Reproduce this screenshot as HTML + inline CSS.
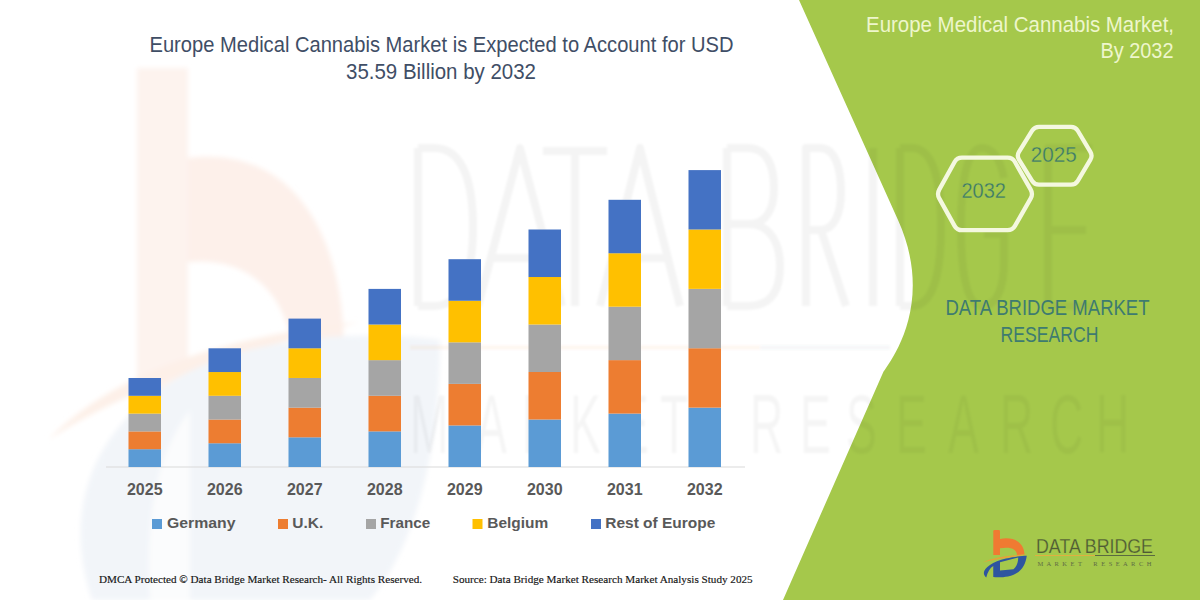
<!DOCTYPE html>
<html><head><meta charset="utf-8">
<style>
html,body{margin:0;padding:0;background:#fff;}
body{width:1200px;height:600px;overflow:hidden;position:relative;}
svg{position:absolute;left:0;top:0;display:block;}
text{font-family:"Liberation Sans",sans-serif;}
.serif{font-family:"Liberation Serif",serif;}
</style></head><body>
<svg width="1200" height="600" viewBox="0 0 1200 600">
<rect width="1200" height="600" fill="#ffffff"/>
<defs><filter id="bl" x="-20%" y="-20%" width="140%" height="140%"><feGaussianBlur stdDeviation="2.5"/></filter>
<filter id="bl2" x="-20%" y="-20%" width="140%" height="140%"><feGaussianBlur stdDeviation="1.2"/></filter></defs>
<!-- faint watermark logo (left) -->
<g filter="url(#bl)">
  <path d="M137 68 L188 68 L188 395 L137 395 Z" fill="#fdf3ee"/>
  <path d="M188 158 C290 145 342 230 344 345 L292 352 C288 298 252 256 188 262 Z" fill="#fdf0ea"/>
  <path d="M48 440 Q140 345 360 322 Q150 372 48 440 Z" fill="#fdf0e8"/>
  <path fill="#f2f5f9" d="M92 600 C55 490 110 395 230 355 C310 332 390 333 440 340 C440 440 420 540 370 600 Z"/><path fill="#fbfcfd" d="M150 600 C145 520 155 455 190 410 L190 600 Z"/>
</g>

<!-- green panel -->
<path d="M799 0 L1200 0 L1200 600 L783 600 L883.1 372.5 C885.3 367.5 937.6 308 898 220 Z" fill="#a5c84b"/>
<!-- watermark underline -->
<g filter="url(#bl2)">
<rect x="410" y="345.5" width="350" height="4" fill="#ed7d31" fill-opacity="0.06"/>
<rect x="760" y="345.5" width="130" height="4" fill="#44546a" fill-opacity="0.05"/>
</g>
<!-- watermark letters -->
<g filter="url(#bl2)" fill="none" stroke="#000" stroke-opacity="0.045" stroke-width="8" stroke-linejoin="round">
<path d="M418 148 L418 306 M418 148 L434 148 C466 148 473 190 473 227 C473 264 466 306 434 306 L418 306"/>
<path d="M478 306 L520 148 L562 306 M490 258 L550 258"/>
<path d="M543 151 L607 151 M575 151 L575 306"/>
<path d="M600 306 L640 148 L680 306 M612 258 L668 258"/>
<path d="M727 148 L727 306 M727 148 L748 148 C768 148 774 168 774 188 C774 212 764 224 748 224 L727 224 M748 224 C772 224 780 246 780 266 C780 292 770 306 748 306 L727 306"/>
<path d="M806 306 L806 148 L820 148 C836 148 841 170 841 192 C841 214 834 230 820 230 L806 230 M821 230 L846 306"/>
<path d="M873 148 L873 306"/>
<path d="M900 148 L900 306 M900 148 L912 148 C936 148 941 190 941 227 C941 264 936 306 912 306 L900 306"/>
<path d="M1004 178 C1000 158 992 148 982 148 C966 148 961 185 961 227 C961 270 966 306 982 306 C998 306 1004 285 1004 262 L1004 234 L984 234"/>
<path d="M1092 148 L1048 148 L1048 306 L1092 306 M1048 230 L1086 230"/>
</g>
<g filter="url(#bl2)" fill="#000" fill-opacity="0.04" font-size="84">
<text transform="translate(410,453) scale(0.55,1)">M</text>
<text transform="translate(476,453) scale(0.55,1)">A</text>
<text transform="translate(522,453) scale(0.55,1)">R</text>
<text transform="translate(570,453) scale(0.55,1)">K</text>
<text transform="translate(618,453) scale(0.55,1)">E</text>
<text transform="translate(660,453) scale(0.55,1)">T</text>
<text transform="translate(750,453) scale(0.55,1)">R</text>
<text transform="translate(800,453) scale(0.55,1)">E</text>
<text transform="translate(846,453) scale(0.55,1)">S</text>
<text transform="translate(896,453) scale(0.55,1)">E</text>
<text transform="translate(948,453) scale(0.55,1)">A</text>
<text transform="translate(1000,453) scale(0.55,1)">R</text>
<text transform="translate(1050,453) scale(0.55,1)">C</text>
<text transform="translate(1096,453) scale(0.55,1)">H</text>
</g>
<!-- title -->
<g fill="#3f4e66" font-size="21.8">
<text x="149.5" y="51.7" textLength="584" lengthAdjust="spacingAndGlyphs">Europe Medical Cannabis Market is Expected to Account for USD</text>
<text x="346" y="78.5" textLength="190" lengthAdjust="spacingAndGlyphs">35.59 Billion by 2032</text>
</g>
<!-- axis -->
<rect x="106" y="466.5" width="639" height="1" fill="#d9d9d9"/>
<rect x="128.50" y="449.20" width="32.5" height="17.81" fill="#5b9bd5"/>
<rect x="128.50" y="431.40" width="32.5" height="17.81" fill="#ed7d31"/>
<rect x="128.50" y="413.60" width="32.5" height="17.81" fill="#a5a5a5"/>
<rect x="128.50" y="395.80" width="32.5" height="17.81" fill="#ffc000"/>
<rect x="128.50" y="378.00" width="32.5" height="17.81" fill="#4472c4"/>
<rect x="208.50" y="443.26" width="32.5" height="23.75" fill="#5b9bd5"/>
<rect x="208.50" y="419.52" width="32.5" height="23.75" fill="#ed7d31"/>
<rect x="208.50" y="395.78" width="32.5" height="23.75" fill="#a5a5a5"/>
<rect x="208.50" y="372.04" width="32.5" height="23.75" fill="#ffc000"/>
<rect x="208.50" y="348.30" width="32.5" height="23.75" fill="#4472c4"/>
<rect x="288.50" y="437.32" width="32.5" height="29.69" fill="#5b9bd5"/>
<rect x="288.50" y="407.64" width="32.5" height="29.69" fill="#ed7d31"/>
<rect x="288.50" y="377.96" width="32.5" height="29.69" fill="#a5a5a5"/>
<rect x="288.50" y="348.28" width="32.5" height="29.69" fill="#ffc000"/>
<rect x="288.50" y="318.60" width="32.5" height="29.69" fill="#4472c4"/>
<rect x="368.50" y="431.38" width="32.5" height="35.63" fill="#5b9bd5"/>
<rect x="368.50" y="395.76" width="32.5" height="35.63" fill="#ed7d31"/>
<rect x="368.50" y="360.14" width="32.5" height="35.63" fill="#a5a5a5"/>
<rect x="368.50" y="324.52" width="32.5" height="35.63" fill="#ffc000"/>
<rect x="368.50" y="288.90" width="32.5" height="35.63" fill="#4472c4"/>
<rect x="448.50" y="425.44" width="32.5" height="41.57" fill="#5b9bd5"/>
<rect x="448.50" y="383.88" width="32.5" height="41.57" fill="#ed7d31"/>
<rect x="448.50" y="342.32" width="32.5" height="41.57" fill="#a5a5a5"/>
<rect x="448.50" y="300.76" width="32.5" height="41.57" fill="#ffc000"/>
<rect x="448.50" y="259.20" width="32.5" height="41.57" fill="#4472c4"/>
<rect x="528.50" y="419.50" width="32.5" height="47.51" fill="#5b9bd5"/>
<rect x="528.50" y="372.00" width="32.5" height="47.51" fill="#ed7d31"/>
<rect x="528.50" y="324.50" width="32.5" height="47.51" fill="#a5a5a5"/>
<rect x="528.50" y="277.00" width="32.5" height="47.51" fill="#ffc000"/>
<rect x="528.50" y="229.50" width="32.5" height="47.51" fill="#4472c4"/>
<rect x="608.50" y="413.56" width="32.5" height="53.45" fill="#5b9bd5"/>
<rect x="608.50" y="360.12" width="32.5" height="53.45" fill="#ed7d31"/>
<rect x="608.50" y="306.68" width="32.5" height="53.45" fill="#a5a5a5"/>
<rect x="608.50" y="253.24" width="32.5" height="53.45" fill="#ffc000"/>
<rect x="608.50" y="199.80" width="32.5" height="53.45" fill="#4472c4"/>
<rect x="688.50" y="407.62" width="32.5" height="59.39" fill="#5b9bd5"/>
<rect x="688.50" y="348.24" width="32.5" height="59.39" fill="#ed7d31"/>
<rect x="688.50" y="288.86" width="32.5" height="59.39" fill="#a5a5a5"/>
<rect x="688.50" y="229.48" width="32.5" height="59.39" fill="#ffc000"/>
<rect x="688.50" y="170.10" width="32.5" height="59.39" fill="#4472c4"/>
<g fill="#595959" font-size="16" font-weight="bold">
<text x="144.75" y="495.3" text-anchor="middle">2025</text>
<text x="224.75" y="495.3" text-anchor="middle">2026</text>
<text x="304.75" y="495.3" text-anchor="middle">2027</text>
<text x="384.75" y="495.3" text-anchor="middle">2028</text>
<text x="464.75" y="495.3" text-anchor="middle">2029</text>
<text x="544.75" y="495.3" text-anchor="middle">2030</text>
<text x="624.75" y="495.3" text-anchor="middle">2031</text>
<text x="704.75" y="495.3" text-anchor="middle">2032</text>
</g>
<!-- legend -->
<g font-size="15.5" font-weight="bold" fill="#595959">
<rect x="152" y="519" width="10" height="10" fill="#5b9bd5"/>
<text x="167" y="528" textLength="68.5" lengthAdjust="spacingAndGlyphs">Germany</text>
<rect x="278" y="519" width="10" height="10" fill="#ed7d31"/>
<text x="292.3" y="528" textLength="31" lengthAdjust="spacingAndGlyphs">U.K.</text>
<rect x="366" y="519" width="10" height="10" fill="#a5a5a5"/>
<text x="380.3" y="528" textLength="50" lengthAdjust="spacingAndGlyphs">France</text>
<rect x="472.5" y="519" width="10" height="10" fill="#ffc000"/>
<text x="487.3" y="528" textLength="61" lengthAdjust="spacingAndGlyphs">Belgium</text>
<rect x="591" y="519" width="10" height="10" fill="#4472c4"/>
<text x="605.3" y="528" textLength="110" lengthAdjust="spacingAndGlyphs">Rest of Europe</text>
</g>
<!-- footer -->
<g font-size="10.5" fill="#151515" stroke="#151515" stroke-width="0.15">
<text class="serif" x="99" y="582.6" textLength="323" lengthAdjust="spacingAndGlyphs">DMCA Protected © Data Bridge Market Research-  All Rights Reserved.</text>
<text class="serif" x="452.7" y="582.6" textLength="300" lengthAdjust="spacingAndGlyphs">Source: Data Bridge Market Research  Market Analysis Study 2025</text>
</g>
<!-- right panel title -->
<g fill="#eef6cc" font-size="21.8">
<text x="1174" y="31.7" text-anchor="end" textLength="308" lengthAdjust="spacingAndGlyphs">Europe Medical Cannabis Market,</text>
<text x="1173.5" y="57.6" text-anchor="end" textLength="73" lengthAdjust="spacingAndGlyphs">By 2032</text>
</g>
<!-- hexagons -->
<g fill="none" stroke="#f4f8e0" stroke-width="4.3" stroke-linejoin="round">
<path d="M939.24 198.37 Q936.80 194.00 939.23 189.63 L954.57 162.07 Q957.00 157.70 962.00 157.70 L1007.50 157.70 Q1012.50 157.70 1014.98 162.04 L1030.72 189.66 Q1033.20 194.00 1030.72 198.34 L1014.98 225.86 Q1012.50 230.20 1007.50 230.20 L962.00 230.20 Q957.00 230.20 954.56 225.83 Z"/>
<path d="M1018.97 159.63 Q1016.60 155.80 1018.97 151.97 L1032.13 130.73 Q1034.50 126.90 1039.00 126.90 L1071.00 126.90 Q1075.50 126.90 1077.80 130.77 L1090.40 151.93 Q1092.70 155.80 1090.40 159.67 L1077.80 180.83 Q1075.50 184.70 1071.00 184.70 L1039.00 184.70 Q1034.50 184.70 1032.13 180.87 Z"/>
</g>
<g fill="#3c7a6a" font-size="22" stroke="#a5c84b" stroke-width="0.3">
<text x="961.5" y="197.7" textLength="44.5" lengthAdjust="spacingAndGlyphs">2032</text>
<text x="1030.8" y="162" textLength="46" lengthAdjust="spacingAndGlyphs">2025</text>
</g>
<g fill="#3e7b70" font-size="21.2">
<text x="945.5" y="315" textLength="204" lengthAdjust="spacingAndGlyphs">DATA BRIDGE MARKET</text>
<text x="1000.5" y="341.6" textLength="98" lengthAdjust="spacingAndGlyphs">RESEARCH</text>
</g>
<!-- logo -->
<g transform="translate(975,525) scale(0.1)" fill="#f07a32">
<path d="M183 62 Q183 50 195 50 L238 50 Q250 50 250 62 L250 300 L183 300 Z"/>
<path d="M250 140 C370 115 490 160 495 295 L420 300 C418 240 360 215 250 232 Z"/>
</g>
<g transform="translate(980,550) scale(0.05)">
<path d="M60 245 Q380 100 960 92 Q450 165 60 245 Z" fill="#e9a03a"/>
<path fill-rule="evenodd" fill="#2e55a0" d="M125 550 C-20 430 180 250 520 170 C700 130 860 115 935 115 C910 300 830 470 560 530 C450 550 330 550 265 540 L265 320 C200 360 150 440 125 550 Z M400 245 L765 150 C760 260 730 340 670 385 L400 410 Z"/>
</g>
<text x="1036" y="552.5" font-size="21" fill="#4f5b35" stroke="#a5c84b" stroke-width="0.25" textLength="117" lengthAdjust="spacingAndGlyphs">DATA BRIDGE</text>
<rect x="1035" y="555" width="60" height="1" fill="#e0b040"/>
<rect x="1095" y="555" width="60" height="1" fill="#5a6a40"/>
<text class="serif" x="1037.5" y="565.5" font-size="6.5" fill="#5f6b45" textLength="114" lengthAdjust="spacing" xml:space="preserve" style="white-space:pre">M A R K E T    R E S E A R C H</text>
</svg>
</body></html>
